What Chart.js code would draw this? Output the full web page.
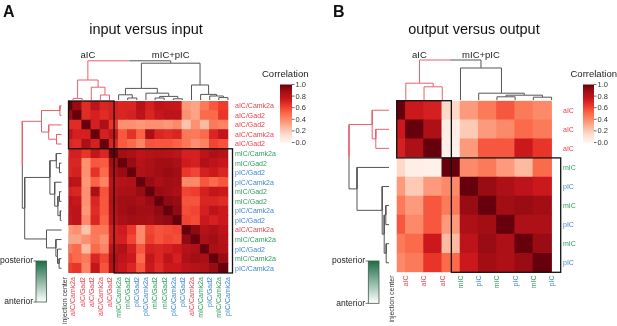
<!DOCTYPE html>
<html>
<head>
<meta charset="utf-8">
<script src="https://cdn.jsdelivr.net/npm/chart.js@4.4.0/dist/chart.umd.min.js"></script>
<style>
  html, body { margin: 0; padding: 0; background: #fff; }
  #wrap { position: relative; width: 617px; height: 326px; overflow: hidden; }
  #wrap canvas { position: absolute; left: 0; top: 0; }
</style>
</head>
<body>
<div id="wrap">
  <canvas id="panelA" width="617" height="326"></canvas>
  <canvas id="panelB" width="617" height="326"></canvas>
</div>
<script>
// ---------- panel A: input versus input ----------
const labelsA = ['aIC/Camk2a', 'aIC/Gad2', 'aIC/Gad2', 'aIC/Camk2a', 'aIC/Gad2',
  'mIC/Camk2a', 'mIC/Gad2', 'pIC/Gad2', 'pIC/Camk2a', 'mIC/Gad2', 'mIC/Gad2',
  'pIC/Camk2a', 'pIC/Gad2', 'aIC/Camk2a', 'mIC/Camk2a', 'pIC/Gad2', 'mIC/Camk2a', 'pIC/Camk2a']

const corrA = [
  [1.00, 0.90, 0.68, 0.80, 0.70, 0.72, 0.70, 0.70, 0.82, 0.72, 0.80, 0.78, 0.76, 0.35, 0.32, 0.45, 0.55, 0.62],
  [0.90, 1.00, 0.68, 0.72, 0.68, 0.72, 0.70, 0.72, 0.80, 0.70, 0.76, 0.80, 0.80, 0.38, 0.32, 0.50, 0.50, 0.65],
  [0.68, 0.68, 1.00, 0.72, 0.85, 0.65, 0.38, 0.38, 0.36, 0.38, 0.38, 0.36, 0.40, 0.22, 0.38, 0.25, 0.45, 0.42],
  [0.80, 0.72, 0.72, 1.00, 0.72, 0.78, 0.55, 0.66, 0.52, 0.86, 0.70, 0.68, 0.70, 0.46, 0.45, 0.50, 0.70, 0.78],
  [0.70, 0.68, 0.85, 0.72, 1.00, 0.70, 0.54, 0.50, 0.42, 0.56, 0.55, 0.55, 0.52, 0.46, 0.38, 0.42, 0.60, 0.56],
  [0.72, 0.72, 0.65, 0.78, 0.70, 1.00, 0.88, 0.85, 0.80, 0.82, 0.84, 0.82, 0.80, 0.72, 0.72, 0.80, 0.85, 0.82],
  [0.70, 0.70, 0.38, 0.55, 0.54, 0.88, 1.00, 0.90, 0.82, 0.85, 0.88, 0.88, 0.86, 0.74, 0.72, 0.84, 0.80, 0.76],
  [0.70, 0.72, 0.38, 0.66, 0.50, 0.85, 0.90, 1.00, 0.84, 0.86, 0.88, 0.90, 0.88, 0.64, 0.60, 0.72, 0.75, 0.70],
  [0.82, 0.80, 0.36, 0.52, 0.42, 0.80, 0.82, 0.84, 1.00, 0.90, 0.86, 0.88, 0.87, 0.40, 0.40, 0.55, 0.50, 0.55],
  [0.72, 0.70, 0.38, 0.86, 0.56, 0.82, 0.85, 0.86, 0.90, 1.00, 0.90, 0.88, 0.86, 0.60, 0.62, 0.72, 0.78, 0.75],
  [0.80, 0.76, 0.38, 0.70, 0.55, 0.84, 0.88, 0.88, 0.86, 0.90, 1.00, 0.92, 0.90, 0.56, 0.56, 0.70, 0.70, 0.68],
  [0.78, 0.80, 0.36, 0.68, 0.55, 0.82, 0.88, 0.90, 0.88, 0.88, 0.92, 1.00, 0.92, 0.58, 0.60, 0.72, 0.80, 0.75],
  [0.76, 0.80, 0.40, 0.70, 0.52, 0.80, 0.86, 0.88, 0.87, 0.86, 0.90, 0.92, 1.00, 0.60, 0.58, 0.75, 0.72, 0.75],
  [0.35, 0.38, 0.22, 0.46, 0.46, 0.72, 0.74, 0.64, 0.40, 0.60, 0.56, 0.58, 0.60, 1.00, 0.92, 0.82, 0.85, 0.80],
  [0.32, 0.32, 0.38, 0.45, 0.38, 0.72, 0.72, 0.60, 0.40, 0.62, 0.56, 0.60, 0.58, 0.92, 1.00, 0.85, 0.88, 0.82],
  [0.45, 0.50, 0.25, 0.50, 0.42, 0.80, 0.84, 0.72, 0.55, 0.72, 0.70, 0.72, 0.75, 0.82, 0.85, 1.00, 0.86, 0.84],
  [0.55, 0.50, 0.45, 0.70, 0.60, 0.85, 0.80, 0.75, 0.50, 0.78, 0.70, 0.80, 0.72, 0.85, 0.88, 0.86, 1.00, 0.90],
  [0.62, 0.65, 0.42, 0.78, 0.56, 0.82, 0.76, 0.70, 0.55, 0.75, 0.68, 0.75, 0.75, 0.80, 0.82, 0.84, 0.90, 1.00]
]

// injection center, 0 = anterior, 1 = posterior
const injectionA = [0.05, 0.10, 0.03, 0.12, 0.06, 0.45, 0.95, 0.95, 0.65, 0.60, 0.55, 0.75, 0.95, 0.03, 0.45, 0.95, 0.55, 0.90]

// merges: [left, right, height]; numbers = leaf position, 'mK' = merge K
const treeA = [
  [0, 1, 0.04], [3, 4, 0.125], [2, 'm1', 0.32], ['m0', 'm2', 0.5],
  [6, 7, 0.05], [5, 'm4', 0.13], [9, 10, 0.05], [11, 12, 0.03], ['m6', 'm7', 0.09],
  [8, 'm8', 0.17], ['m5', 'm9', 0.29],
  [16, 17, 0.06], [15, 'm11', 0.1], [14, 'm12', 0.14], [13, 'm13', 0.375],
  ['m10', 'm14', 0.92], ['m3', 'm15', 0.98]
]
const clustersA = [[0, 4], [5, 17]]

// ---------- panel B: output versus output ----------
const labelsB = ['aIC', 'aIC', 'aIC', 'mIC', 'pIC', 'mIC', 'pIC', 'mIC', 'pIC']

const corrB = [
  [1.00, 0.75, 0.72, 0.15, 0.35, 0.45, 0.55, 0.45, 0.40],
  [0.75, 1.00, 0.85, 0.04, 0.20, 0.35, 0.40, 0.50, 0.45],
  [0.72, 0.85, 1.00, 0.03, 0.35, 0.55, 0.55, 0.75, 0.65],
  [0.15, 0.04, 0.03, 1.00, 0.40, 0.45, 0.35, 0.25, 0.50],
  [0.35, 0.20, 0.35, 0.40, 1.00, 0.90, 0.85, 0.80, 0.75],
  [0.45, 0.35, 0.55, 0.45, 0.90, 1.00, 0.88, 0.90, 0.88],
  [0.55, 0.40, 0.55, 0.35, 0.85, 0.88, 1.00, 0.85, 0.85],
  [0.45, 0.50, 0.75, 0.25, 0.80, 0.90, 0.85, 1.00, 0.90],
  [0.40, 0.45, 0.65, 0.50, 0.75, 0.88, 0.85, 0.90, 1.00]
]

const injectionB = [0.03, 0.03, 0.08, 0.45, 0.92, 0.55, 0.65, 0.45, 0.92]

const treeB = [
  [1, 2, 0.33], [0, 'm0', 0.42],
  [5, 6, 0.08], [7, 8, 0.07], ['m2', 'm3', 0.12], [4, 'm4', 0.17], [3, 'm5', 0.8],
  ['m1', 'm6', 1.0]
]
const clustersB = [[0, 2], [3, 8]]

const groupNames = ['aIC', 'mIC+pIC']
const colorbarTicks = [0, 0.2, 0.4, 0.6, 0.8, 1.0]

// ---------- styling ----------
const W = 617, H = 326
const FONT = '"Liberation Sans", Arial, sans-serif'
const REDS = ['#fff5f0', '#fee0d2', '#fcbba1', '#fc9272', '#fb6a4a', '#ef3b2c', '#cb181d', '#a50f15', '#67000d']
const GREENS = ['#ffffff', '#1c6d47']
const REGION = { aIC: '#e8434f', mIC: '#2f9d5c', pIC: '#3f87d2' }
const BRANCH_RED = '#e8606e'
const BRANCH_GRAY = '#555555'

function hexRgb(h) { return [1, 3, 5].map(i => parseInt(h.slice(i, i + 2), 16)) }
function ramp(stops, t) {
  t = Math.max(0, Math.min(1, t))
  const s = t * (stops.length - 1)
  const i = Math.min(stops.length - 2, Math.floor(s))
  const f = s - i
  const a = hexRgb(stops[i]), b = hexRgb(stops[i + 1])
  return 'rgb(' + a.map((v, k) => Math.round(v + (b[k] - v) * f)).join(',') + ')'
}

// turn merge list into line points (pos, height), coloured by cluster
function dendroLines(tree, redRange) {
  const nodes = [], red = [], gray = []
  const isRed = p => p >= redRange[0] && p <= redRange[1]
  const node = r => typeof r === 'number' ? { p: r, h: 0, g: isRed(r) ? 'r' : 'g' } : nodes[+r.slice(1)]
  tree.forEach(([a, b, h]) => {
    const A = node(a), B = node(b), mid = (A.p + B.p) / 2
    ;[A, B].forEach(c => {
      (c.g === 'r' ? red : gray).push([c.p, c.h], [c.p, h], [mid, h], null)
    })
    nodes.push({ p: mid, h, g: A.g === B.g ? A.g : 'x' })
  })
  const root = tree[tree.length - 1]
  return { red, gray, groups: [node(root[0]).p, node(root[1]).p] }
}

const lineDs = (pts, color, flip, xId, yId) => ({
  type: 'line',
  data: pts.map(q => q ? (flip ? { x: q[1], y: q[0] } : { x: q[0], y: q[1] }) : { x: null, y: null }),
  borderColor: color, borderWidth: 1, pointRadius: 0, tension: 0,
  spanGaps: false, clip: false, xAxisID: xId, yAxisID: yId
})

function makePanel(id, P) {
  const n = P.labels.length
  const [L, T, R, B] = P.heat
  const k = P.k
  const heat = [], heatColors = []
  P.values.forEach((row, i) => row.forEach((v, j) => {
    heat.push({ x: j, y: [i - 0.5, i + 0.5] })
    heatColors.push(ramp(REDS, v))
  }))
  const strip = P.injection.map((v, i) => ({ x: (P.leafX - P.stripX) / k, y: [i - 0.5, i + 0.5] }))
  const d = dendroLines(P.tree, P.clusters[0])

  const overlay = {
    id: 'overlay' + id,
    afterDraw(chart) {
      const ctx = chart.ctx
      const xs = chart.scales.x, ys = chart.scales.y
      ctx.save()
      // cluster boxes
      ctx.strokeStyle = '#111'
      ctx.lineWidth = 1.3
      P.clusters.forEach(([a, b]) => {
        const x1 = xs.getPixelForValue(a - 0.5), x2 = xs.getPixelForValue(b + 0.5)
        const y1 = ys.getPixelForValue(a - 0.5), y2 = ys.getPixelForValue(b + 0.5)
        ctx.strokeRect(x1, y1, x2 - x1, y2 - y1)
      })
      // row labels
      ctx.font = '7px ' + FONT
      ctx.textBaseline = 'middle'
      ctx.textAlign = 'left'
      P.labels.forEach((lab, i) => {
        ctx.fillStyle = REGION[lab.slice(0, 3)]
        ctx.fillText(lab, P.rowLabelX, ys.getPixelForValue(i) + 0.5)
      })
      // column labels (rotated)
      ctx.textAlign = 'right'
      P.labels.forEach((lab, j) => {
        ctx.save()
        ctx.translate(xs.getPixelForValue(j) + 0.5, P.colLabelTop)
        ctx.rotate(-Math.PI / 2)
        ctx.fillStyle = REGION[lab.slice(0, 3)]
        ctx.fillText(lab, 0, 0)
        ctx.restore()
      })
      ctx.save()
      ctx.translate(P.stripX + 0.5, P.colLabelTop)
      ctx.rotate(-Math.PI / 2)
      ctx.fillStyle = '#333'
      ctx.fillText('injection center', 0, 0)
      ctx.restore()
      // panel letter and title
      ctx.fillStyle = '#111'
      ctx.textBaseline = 'alphabetic'
      ctx.textAlign = 'left'
      ctx.font = 'bold 16px ' + FONT
      ctx.fillText(P.letter, P.letterX, 17)
      ctx.textAlign = 'center'
      ctx.font = '14.5px ' + FONT
      ctx.fillText(P.title, P.titleX, 34)
      // cluster names over the top dendrogram
      ctx.font = '9.5px ' + FONT
      ctx.fillStyle = '#222'
      groupNames.forEach((g, i) => ctx.fillText(g, xs.getPixelForValue(d.groups[i]), 58))
      // correlation colour bar
      const cb = P.cbar
      const grad = ctx.createLinearGradient(0, cb.bottom, 0, cb.top)
      REDS.forEach((c, i) => grad.addColorStop(i / (REDS.length - 1), c))
      ctx.fillStyle = grad
      ctx.fillRect(cb.x, cb.top, cb.w, cb.bottom - cb.top)
      ctx.strokeStyle = '#444'
      ctx.lineWidth = 0.8
      ctx.fillStyle = '#333'
      ctx.font = '7.5px ' + FONT
      ctx.textAlign = 'left'
      ctx.textBaseline = 'middle'
      colorbarTicks.forEach(t => {
        const y = cb.bottom - t * (cb.bottom - cb.top)
        ctx.beginPath(); ctx.moveTo(cb.x + cb.w, y); ctx.lineTo(cb.x + cb.w + 2.5, y); ctx.stroke()
        ctx.fillText(t.toFixed(1), cb.x + cb.w + 3.5, y + 0.5)
      })
      ctx.font = '9.5px ' + FONT
      ctx.textBaseline = 'alphabetic'
      ctx.fillStyle = '#222'
      ctx.fillText('Correlation', cb.labelX, 77)
      // injection-center legend
      const lg = P.legend
      const g2 = ctx.createLinearGradient(0, lg.bottom, 0, lg.top)
      g2.addColorStop(0, GREENS[0]); g2.addColorStop(1, GREENS[1])
      ctx.fillStyle = g2
      ctx.fillRect(lg.x, lg.top, lg.w, lg.bottom - lg.top)
      ctx.strokeStyle = '#3d5a4a'
      ctx.lineWidth = 0.8
      ctx.strokeRect(lg.x, lg.top, lg.w, lg.bottom - lg.top)
      ctx.font = '8.5px ' + FONT
      ctx.fillStyle = '#222'
      ctx.textAlign = 'right'
      ctx.textBaseline = 'middle'
      ;[['posterior', lg.top], ['anterior', lg.bottom]].forEach(([t, y]) => {
        ctx.fillText(t, lg.textX, y)
        ctx.beginPath(); ctx.moveTo(lg.textX + 0.5, y); ctx.lineTo(lg.x, y); ctx.stroke()
      })
      ctx.restore()
    }
  }

  return new Chart(document.getElementById(id), {
    type: 'bar',
    data: {
      datasets: [
        {
          label: 'correlation', data: heat, backgroundColor: heatColors,
          barThickness: (R - L) / n + 0.4, borderWidth: 0, xAxisID: 'x', yAxisID: 'y'
        },
        {
          label: 'injection center', data: strip,
          backgroundColor: P.injection.map(v => ramp(GREENS, v)),
          borderColor: '#b5b5b5', borderWidth: 0.6, borderSkipped: false,
          barThickness: P.stripW, xAxisID: 'xd', yAxisID: 'y'
        },
        lineDs(d.red, BRANCH_RED, false, 'x', 'yd'),
        lineDs(d.gray, BRANCH_GRAY, false, 'x', 'yd'),
        lineDs(d.red, BRANCH_RED, true, 'xd', 'y'),
        lineDs(d.gray, BRANCH_GRAY, true, 'xd', 'y')
      ]
    },
    options: {
      responsive: false,
      animation: false,
      events: [],
      layout: { padding: { left: L, top: T, right: W - R, bottom: H - B } },
      plugins: { legend: { display: false }, tooltip: { enabled: false } },
      scales: {
        x: { type: 'linear', axis: 'x', display: false, offset: false, bounds: 'data', min: -0.5, max: n - 0.5 },
        y: { type: 'linear', axis: 'y', display: false, offset: false, bounds: 'data', reverse: true, min: -0.5, max: n - 0.5, beginAtZero: false },
        xd: {
          type: 'linear', axis: 'x', display: false, offset: false, bounds: 'data', reverse: true,
          min: (P.leafX - R) / k, max: (P.leafX - R) / k + (R - L) / k
        },
        yd: {
          type: 'linear', axis: 'y', display: false, offset: false, bounds: 'data', beginAtZero: false,
          min: (P.leafY - B) / k, max: (P.leafY - B) / k + (B - T) / k
        }
      }
    },
    plugins: [overlay]
  })
}

makePanel('panelA', {
  labels: labelsA, values: corrA, injection: injectionA, tree: treeA, clusters: clustersA,
  heat: [68.5, 101, 232.5, 273], k: 40, leafX: 61.5, leafY: 100,
  stripX: 64.6, stripW: 5, rowLabelX: 235, colLabelTop: 277,
  letter: 'A', letterX: 3, title: 'input versus input', titleX: 146,
  cbar: { x: 280, w: 12, top: 84.5, bottom: 142.5, labelX: 262 },
  legend: { x: 36, w: 10.5, top: 261, bottom: 302, textX: 33 }
})

makePanel('panelB', {
  labels: labelsB, values: corrB, injection: injectionB, tree: treeB, clusters: clustersB,
  heat: [396.7, 100.7, 560.7, 272.3], k: 40, leafX: 389, leafY: 100,
  stripX: 391.8, stripW: 4, rowLabelX: 563, colLabelTop: 275.5,
  letter: 'B', letterX: 333, title: 'output versus output', titleX: 474,
  cbar: { x: 583, w: 11, top: 84.5, bottom: 142.5, labelX: 570.5 },
  legend: { x: 368.3, w: 10.7, top: 261, bottom: 303.3, textX: 365 }
})
</script>
</body>
</html>
